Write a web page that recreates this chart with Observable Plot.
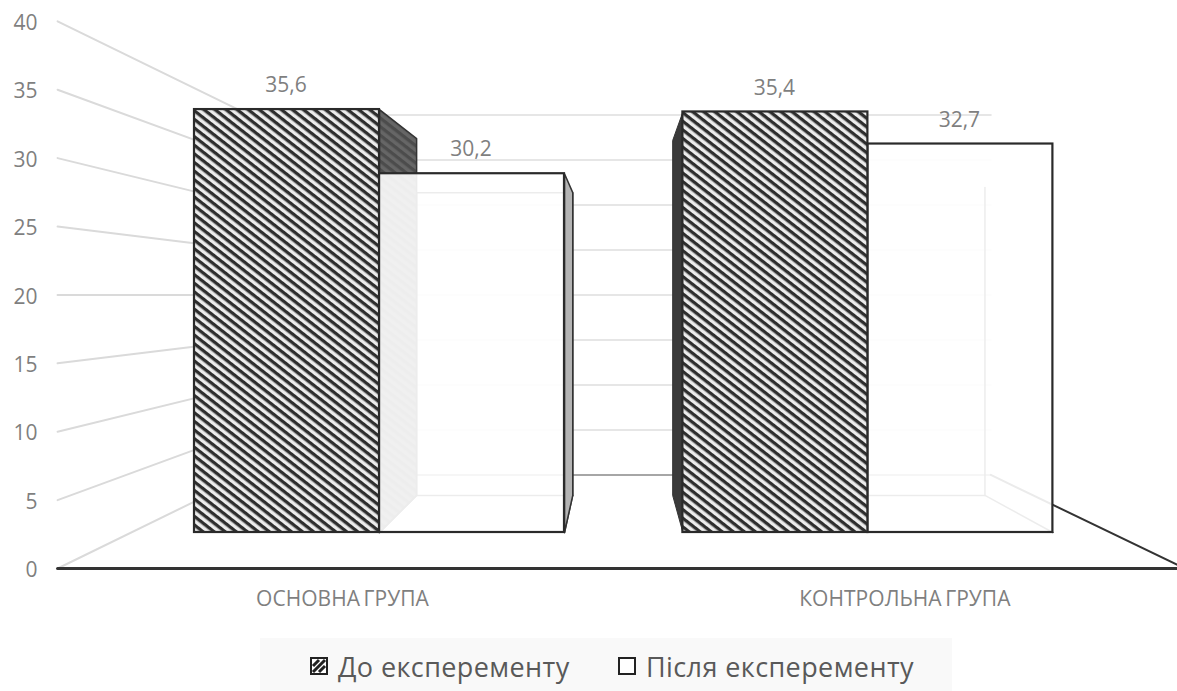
<!DOCTYPE html>
<html lang="uk">
<head>
<meta charset="utf-8">
<title>Результати експерименту</title>
<script src="https://cdn.jsdelivr.net/npm/d3@7"></script>
<script src="https://cdn.jsdelivr.net/npm/@observablehq/plot@0.6"></script>
<style>
  html, body { margin: 0; padding: 0; background: #fff; }
  #chart svg { display: block; }
  .category-labels text { letter-spacing: 0.05px; word-spacing: -2px; }
  #legend {
    position: absolute; left: 260px; top: 638px; width: 692px; height: 53px;
    background: #f9f9f9; color: #595959;
    font: 27px "Open Sans", sans-serif; letter-spacing: 0.4px;
  }
  #legend span { position: absolute; top: 11px; white-space: nowrap; line-height: 36px; }
  #legend svg { position: absolute; top: 19px; }
</style>
</head>
<body>
<div id="chart"></div>
<div id="legend"></div>
<script>
// Survey results
const categories = ["ОСНОВНА ГРУПА", "КОНТРОЛЬНА ГРУПА"];
const seriesNames = ["До експеременту", "Після експеременту"];
const beforeValues = [35.6, 35.4];
const afterValues = [30.2, 32.7];
const axisTicks = [0, 5, 10, 15, 20, 25, 30, 35, 40];

// Horizontal unit is one bar width; groups repeat every groupPitch bars.
const groupPitch = 2.64;
// 3D view: depth factors relative to the plane of the bar fronts, around a vanishing point.
const vanishU = 2.286, vanishV = 20;
const depthFloorFront = 1.1515, depthBarBack = 0.844, depthWall = 0.7576;
const wallLeftU = -0.342, wallRightU = 4.95;

const project = (u, v, k) => ({x: vanishU + (u - vanishU) * k, y: vanishV + (v - vanishV) * k});
const poly = (id, corners) => {
  const closed = [...corners, corners[0]];
  return closed.map(([u, v, k]) => ({id, ...project(u, v, k)}));
};
const seg = (id, a, b) => [a, b].map(([u, v, k]) => ({id, ...project(u, v, k)}));

const barRows = (values, offset) =>
  values.map((value, i) => ({
    category: categories[i],
    value,
    u1: i * groupPitch + offset,
    u2: i * groupPitch + offset + 1
  }));
const before = barRows(beforeValues, 0);
const after = barRows(afterValues, 1);

// A box's side face between the front plane and the back plane of the bar.
const sideFace = (id, u, value) => poly(id, [
  [u, 0, 1], [u, value, 1], [u, value, depthBarBack], [u, 0, depthBarBack]
]);

// Grid on the left wall and the back wall.
const leftWallLines = axisTicks.flatMap(t =>
  seg(`left-${t}`, [wallLeftU, t, depthFloorFront], [wallLeftU, t, depthWall]));
const backWallLines = axisTicks.filter(t => t > 0).flatMap(t =>
  seg(`back-${t}`, [wallLeftU, t, depthWall], [wallRightU, t, depthWall]));
const floorBack = seg("floor-back", [wallLeftU, 0, depthWall], [wallRightU, 0, depthWall]);
const floorRight = seg("floor-right", [wallRightU, 0, depthWall], [wallRightU, 0, depthFloorFront]);
const floorFront = seg("floor-front", [wallLeftU, 0, depthFloorFront], [wallRightU, 0, depthFloorFront]);

// Hidden edges of the open boxes, dimmed by the translucent front face.
const [a0, a1] = after;
const hiddenEdges = [
  ...poly("back-0", [
    [a0.u1, 0, depthBarBack], [a0.u1, a0.value, depthBarBack],
    [a0.u2, a0.value, depthBarBack], [a0.u2, 0, depthBarBack]
  ]),
  ...seg("bottom-left-0", [a0.u1, 0, 1], [a0.u1, 0, depthBarBack]),
  ...seg("bottom-right-0", [a0.u2, 0, 1], [a0.u2, 0, depthBarBack]),
  ...seg("floor-1", [a1.u1, 0, depthBarBack], [a1.u2, 0, depthBarBack]),
  ...seg("corner-1", [a1.u2, 0, depthBarBack], [a1.u2, a1.value - 2, depthBarBack]),
  ...seg("bottom-right-1", [a1.u2, 0, 1], [a1.u2, 0, depthBarBack])
];

const fontFamily = '"Open Sans", sans-serif';
const decimal = v => String(v).replace(".", ",");
const labelGrey = "#7f7f7f";

// Scale: one bar is 185 px wide and starts 194 px in; one value unit is 11.88 px.
const W = 1177, H = 638;
const barPx = 185, originPx = 194, baselinePx = 532, unitPx = 11.88;

const chart = Plot.plot({
  width: W, height: H, margin: 0,
  style: {background: "#fff", overflow: "hidden"},
  x: {axis: null, domain: [-originPx / barPx, (W - originPx) / barPx], range: [0, W]},
  y: {axis: null, domain: [(baselinePx - H) / unitPx, baselinePx / unitPx], range: [H, 0]},
  marks: [
    // walls and floor
    Plot.line(leftWallLines, {x: "x", y: "y", z: "id", stroke: "#dadada", strokeWidth: 2}),
    Plot.line(backWallLines, {x: "x", y: "y", z: "id", stroke: "#e6e6e6", strokeWidth: 2}),
    Plot.line(floorBack, {x: "x", y: "y", z: "id", stroke: "#a6a6a6", strokeWidth: 2}),
    Plot.line(floorRight, {x: "x", y: "y", z: "id", stroke: "#333", strokeWidth: 2}),
    Plot.line(floorFront, {x: "x", y: "y", z: "id", stroke: "#333", strokeWidth: 3}),

    // side faces
    Plot.line(sideFace("s0", before[0].u2, before[0].value), {
      x: "x", y: "y", z: "id", fill: "url(#hatch-dark)", stroke: "#333", strokeWidth: 1.5
    }),
    Plot.line(sideFace("s1", before[1].u1, before[1].value), {
      x: "x", y: "y", z: "id", fill: "#3a3a3a", stroke: "#333", strokeWidth: 1
    }),
    Plot.line(hiddenEdges, {x: "x", y: "y", z: "id", stroke: "#444", strokeWidth: 1.5}),
    Plot.line(sideFace("s2", after[0].u2, after[0].value), {
      x: "x", y: "y", z: "id", fill: "#b4b4b4", stroke: "#333", strokeWidth: 1.5
    }),

    // bar fronts
    Plot.rect(after, {
      x1: "u1", x2: "u2", y1: () => 0, y2: "value",
      fill: "#fff", fillOpacity: 0.9, stroke: "#2a2a2a", strokeWidth: 2.2
    }),
    Plot.rect(before, {
      x1: "u1", x2: "u2", y1: () => 0, y2: "value",
      fill: "url(#hatch)", stroke: "#2a2a2a", strokeWidth: 2.2
    }),

    // value labels
    Plot.text([...before, ...after], {
      x: d => (d.u1 + d.u2) / 2, y: "value", text: d => decimal(d.value), dx: -1, dy: -24,
      fill: labelGrey, fontSize: 21, fontFamily
    }),
    // value axis labels
    Plot.text(axisTicks, {
      x: () => project(wallLeftU, 0, depthFloorFront).x,
      y: t => project(wallLeftU, t, depthFloorFront).y,
      text: t => String(t), textAnchor: "end", dx: -20, dy: 2,
      fill: labelGrey, fontSize: 21, fontFamily
    }),
    // category labels
    Plot.text(categories, {
      x: (d, i) => project(i * groupPitch + 1, 0, depthFloorFront).x,
      y: () => project(0, 0, depthFloorFront).y,
      text: d => d, dx: -1, dy: 31,
      fill: labelGrey, fontSize: 21, fontFamily,
      className: "category-labels"
    })
  ]
});

// Stripe patterns used by the marks above.
const stripes = (id, ground, stripe) => {
  const p = d3.select(chart).append("defs").append("pattern")
    .attr("id", id).attr("patternUnits", "userSpaceOnUse")
    .attr("width", 6.8).attr("height", 6.8)
    .attr("patternTransform", "rotate(38)");
  p.append("rect").attr("width", 6.8).attr("height", 6.8).attr("fill", ground);
  p.append("rect").attr("width", 6.8).attr("height", 3.3).attr("fill", stripe);
};
stripes("hatch", "#ececec", "#2e2e2e");
stripes("hatch-dark", "#666", "#4c4c4c");
document.getElementById("chart").append(chart);

// Legend below the chart.
const legend = d3.select("#legend");
const swatch = (left, fill) => {
  const s = legend.append("svg").attr("width", 18).attr("height", 18).style("left", `${left}px`);
  s.append("rect").attr("x", 1).attr("y", 1).attr("width", 16).attr("height", 16)
    .attr("fill", fill).attr("stroke", "#222").attr("stroke-width", 2);
  return s;
};
const mini = swatch(50, "#fff");
mini.append("path").attr("d", "M3 15L15 3M3 9L9 3M9 15L15 9").attr("stroke", "#222").attr("stroke-width", 3);
swatch(358, "#fff");
legend.append("span").style("left", "78px").text(seriesNames[0]);
legend.append("span").style("left", "386px").text(seriesNames[1]);
</script>
</body>
</html>
